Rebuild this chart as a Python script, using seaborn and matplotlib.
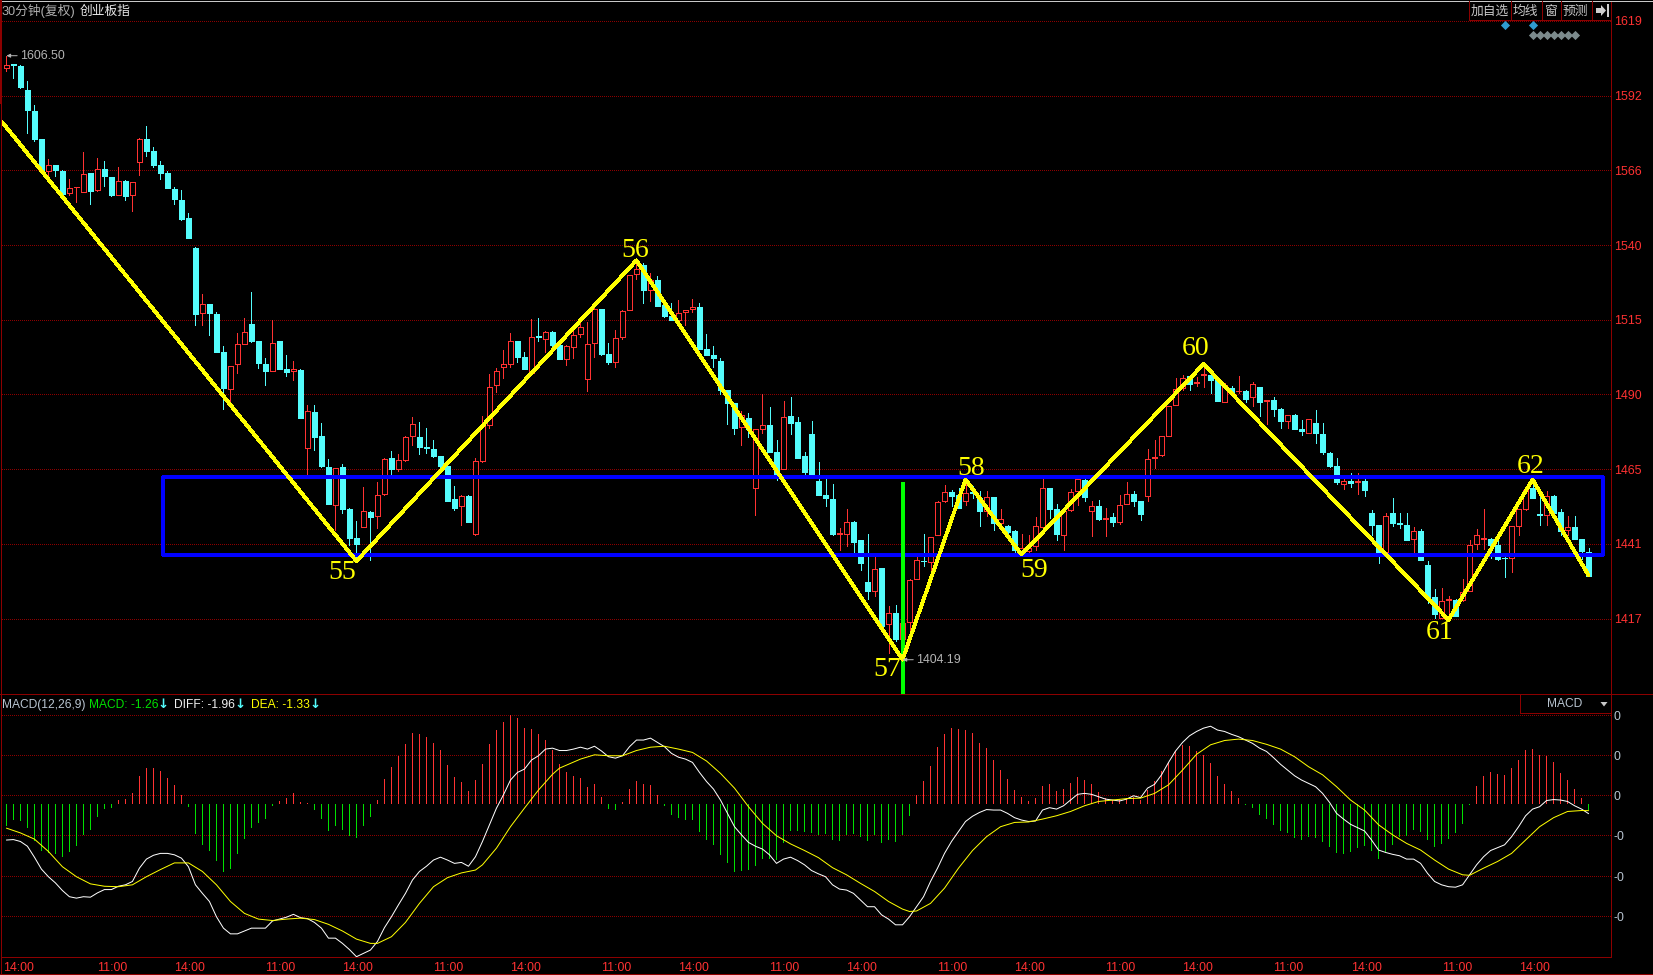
import numpy as np
import pandas as pd
import seaborn as sns
import matplotlib.pyplot as plt
from matplotlib.lines import Line2D
from matplotlib.patches import Polygon
from matplotlib.ticker import NullFormatter, NullLocator

# candles, one per 30 minute bar
open_ = [
    1602.0,1603.6,1602.9,1594.3,1586.8,1577.0,1565.9,1567.8,1565.9,1558.0,
    1560.1,1558.4,1564.9,1559.2,1566.5,1563.7,1557.5,1562.3,1557.3,1569.0,
    1576.9,1572.6,1567.8,1565.1,1559.6,1555.8,1549.3,1539.0,1517.0,1519.9,
    1516.8,1503.7,1491.6,1499.8,1506.5,1513.1,1507.4,1500.0,1497.4,1507.4,
    1498.3,1497.5,1497.9,1471.9,1483.9,1476.0,1465.9,1453.4,1465.9,1452.3,
    1442.9,1446.2,1451.2,1449.8,1456.9,1468.7,1465.2,1468.2,1476.1,1475.7,
    1472.4,1471.8,1469.5,1466.1,1455.5,1453.1,1456.5,1444.2,1467.9,1479.7,
    1492.8,1499.0,1500.0,1507.6,1502.3,1496.7,1509.1,1508.1,1510.7,1506.1,
    1501.6,1505.5,1509.9,1494.9,1506.8,1518.3,1503.3,1500.4,1508.8,1517.9,
    1530.1,1533.4,1524.8,1528.1,1519.6,1515.8,1514.6,1517.4,1518.4,1518.9,
    1505.0,1502.7,1501.0,1491.1,1486.9,1479.0,1481.8,1458.8,1478.2,1479.5,
    1470.7,1465.0,1482.5,1480.6,1469.5,1476.6,1461.3,1456.8,1455.5,1444.0,
    1444.0,1448.1,1442.0,1428.7,1426.0,1433.1,1415.5,1419.0,1410.6,1416.0,
    1429.8,1435.5,1435.2,1443.7,1454.7,1457.7,1456.7,1454.7,1457.5,1455.7,
    1451.6,1456.0,1447.5,1446.7,1444.9,1438.5,1438.5,1440.2,1446.3,1459.0,
    1452.0,1443.8,1451.8,1457.9,1461.7,1451.4,1453.2,1448.9,1449.7,1447.9,
    1453.8,1457.0,1454.8,1456.3,1468.8,1469.6,1475.8,1486.3,1491.7,1495.7,
    1493.6,1496.3,1496.0,1494.4,1487.3,1491.7,1490.8,1491.0,1488.7,1492.1,
    1487.4,1487.8,1484.8,1480.9,1482.9,1478.3,1477.0,1480.3,1476.7,1470.5,
    1466.2,1460.3,1461.3,1461.0,1461.3,1450.9,1447.1,1438.4,1450.7,1447.5,
    1447.1,1442.4,1445.2,1434.0,1423.9,1417.4,1423.1,1423.1,1423.0,1425.7,
    1440.9,1442.6,1442.6,1440.4,1436.5,1436.5,1446.6,1452.0,1459.1,1450.4,
    1450.1,1456.5,1451.3,1445.3,1446.4,1442.6,1438.4,
]
close = [
    1603.2,1603.0,1595.4,1587.3,1577.0,1566.0,1567.7,1566.1,1557.7,1559.8,
    1560.2,1564.6,1558.9,1566.4,1564.0,1557.4,1562.2,1557.1,1561.8,1576.9,
    1572.7,1567.7,1565.2,1559.7,1556.1,1549.2,1542.7,1516.6,1519.9,1517.0,
    1504.0,1492.0,1499.2,1506.5,1510.7,1507.4,1500.1,1497.6,1506.9,1498.3,
    1497.2,1498.2,1482.0,1484.1,1475.7,1466.0,1453.9,1465.4,1452.3,1442.9,
    1441.0,1451.5,1449.5,1456.7,1468.3,1465.2,1468.0,1475.6,1479.9,1472.4,
    1471.9,1469.5,1466.1,1454.9,1452.6,1456.4,1448.1,1467.7,1479.5,1492.3,
    1497.5,1500.0,1507.6,1502.3,1498.2,1509.0,1508.8,1510.6,1506.1,1501.5,
    1505.8,1509.4,1512.3,1506.6,1518.2,1503.3,1500.6,1508.6,1517.7,1530.0,
    1532.0,1524.8,1528.2,1519.2,1515.8,1514.5,1517.0,1518.0,1519.1,1505.0,
    1502.7,1501.7,1491.1,1487.0,1478.7,1483.0,1478.3,1478.3,1479.7,1470.7,
    1462.2,1482.3,1480.2,1468.8,1464.2,1462.2,1456.8,1455.8,1444.2,1444.3,
    1448.0,1441.6,1434.7,1425.9,1433.0,1414.8,1419.0,1410.6,1415.8,1429.2,
    1435.8,1435.3,1443.2,1454.4,1457.7,1456.5,1452.5,1457.4,1457.4,1451.6,
    1456.0,1447.5,1449.0,1444.8,1439.1,1439.6,1439.5,1446.7,1459.0,1452.0,
    1444.2,1451.4,1457.7,1461.9,1456.0,1453.0,1448.9,1449.3,1448.1,1453.4,
    1457.0,1454.9,1450.5,1468.4,1469.1,1475.8,1485.8,1491.6,1495.2,1493.3,
    1493.9,1496.5,1494.4,1487.6,1492.8,1490.6,1491.0,1488.2,1493.3,1487.3,
    1487.7,1484.9,1480.9,1482.8,1478.3,1477.5,1481.5,1477.0,1470.8,1466.2,
    1460.8,1461.3,1460.7,1461.1,1458.4,1447.1,1438.4,1449.8,1447.5,1447.3,
    1442.3,1445.1,1435.7,1424.1,1418.5,1422.8,1423.2,1417.9,1425.4,1440.6,
    1443.8,1442.8,1440.4,1436.2,1436.3,1446.5,1452.0,1458.4,1455.8,1450.1,
    1456.3,1450.9,1445.2,1446.4,1442.6,1438.6,1430.7,
]
high = [
    1606.5,1603.6,1603.0,1597.5,1588.8,1577.0,1569.9,1568.0,1566.1,1563.0,
    1560.2,1572.3,1565.0,1570.3,1569.3,1563.7,1567.0,1562.5,1561.9,1577.3,
    1581.6,1574.1,1569.3,1565.6,1560.3,1559.2,1551.0,1539.5,1523.3,1520.0,
    1517.3,1506.0,1499.3,1510.1,1515.2,1524.0,1507.4,1502.0,1514.5,1507.7,
    1503.0,1501.0,1498.0,1486.2,1486.2,1480.3,1468.5,1465.5,1466.8,1452.5,
    1448.4,1459.4,1451.6,1461.0,1468.7,1470.9,1470.0,1475.8,1482.3,1480.6,
    1478.7,1474.5,1469.5,1466.2,1459.5,1456.7,1456.7,1468.8,1482.7,1496.4,
    1498.5,1504.6,1510.4,1507.6,1504.0,1514.8,1515.2,1510.8,1511.0,1506.2,
    1506.1,1510.8,1513.5,1514.0,1519.6,1518.5,1507.0,1511.4,1517.9,1530.0,
    1534.0,1534.0,1530.7,1529.7,1519.6,1520.3,1521.3,1518.1,1521.6,1520.3,
    1510.0,1505.7,1501.7,1491.2,1487.0,1484.2,1483.5,1478.4,1489.8,1485.6,
    1474.8,1487.6,1489.0,1482.2,1470.6,1481.0,1467.5,1462.0,1460.3,1445.9,
    1452.3,1448.3,1442.0,1444.2,1436.9,1433.1,1421.1,1421.3,1415.8,1429.6,
    1436.8,1444.1,1443.2,1454.7,1460.0,1458.4,1459.0,1461.7,1459.5,1457.9,
    1457.9,1456.0,1452.3,1447.1,1445.5,1444.2,1443.9,1449.6,1461.9,1459.0,
    1453.9,1452.0,1458.6,1463.3,1461.9,1454.8,1455.1,1452.5,1450.7,1456.8,
    1460.9,1458.1,1454.8,1471.7,1474.7,1475.8,1485.8,1495.2,1496.0,1496.0,
    1495.5,1499.4,1497.7,1494.9,1493.5,1492.4,1495.7,1491.3,1493.7,1492.1,
    1487.8,1488.7,1485.1,1482.8,1483.2,1481.3,1481.5,1484.6,1480.3,1470.8,
    1468.6,1463.3,1463.9,1463.9,1462.0,1451.8,1447.1,1450.7,1455.8,1450.7,
    1451.0,1446.2,1445.8,1435.3,1426.5,1426.8,1424.2,1423.2,1429.7,1442.3,
    1445.8,1452.0,1442.9,1443.5,1437.6,1446.8,1452.0,1458.8,1460.6,1456.8,
    1458.1,1456.8,1452.0,1450.0,1450.0,1442.6,1439.7,
]
low = [
    1601.1,1598.6,1594.8,1579.0,1576.4,1565.0,1563.3,1564.0,1557.5,1557.3,
    1554.8,1558.4,1554.4,1558.9,1560.6,1556.9,1557.3,1555.7,1551.8,1564.4,
    1571.0,1567.2,1563.0,1559.7,1554.4,1548.9,1542.7,1512.9,1512.8,1509.4,
    1503.7,1484.9,1486.2,1496.7,1506.4,1507.2,1498.6,1492.8,1497.4,1498.3,
    1495.9,1494.5,1481.9,1462.7,1471.4,1465.9,1453.9,1445.5,1450.7,1440.7,
    1435.9,1446.2,1435.6,1446.1,1456.6,1463.0,1464.6,1467.9,1472.9,1470.1,
    1470.4,1469.0,1464.0,1454.7,1451.8,1447.1,1448.1,1443.6,1467.6,1478.6,
    1490.5,1495.0,1498.9,1500.6,1498.2,1496.5,1507.7,1504.0,1504.6,1501.5,
    1499.5,1501.8,1508.8,1491.0,1502.3,1503.0,1499.9,1498.9,1508.2,1517.9,
    1528.6,1520.2,1521.2,1519.2,1515.5,1514.5,1514.6,1512.8,1517.2,1505.0,
    1502.7,1498.9,1490.0,1479.8,1476.7,1473.1,1475.7,1450.3,1476.8,1470.7,
    1461.4,1465.0,1476.7,1468.8,1462.9,1462.2,1456.8,1453.0,1443.9,1439.0,
    1440.2,1438.0,1432.4,1423.3,1424.3,1413.7,1406.4,1410.1,1404.19,1411.1,
    1429.8,1433.8,1432.2,1443.7,1454.3,1453.0,1452.5,1453.6,1455.7,1446.6,
    1450.0,1445.3,1447.1,1443.4,1438.0,1437.5,1438.0,1438.9,1446.3,1449.1,
    1442.3,1438.9,1451.4,1453.4,1454.6,1443.4,1448.7,1443.4,1446.6,1447.3,
    1453.7,1453.0,1448.7,1454.7,1465.5,1469.3,1475.8,1486.3,1491.3,1491.1,
    1492.5,1492.2,1490.2,1487.6,1487.1,1490.6,1490.2,1487.3,1485.9,1482.7,
    1480.0,1482.6,1478.7,1478.7,1478.3,1476.4,1477.0,1473.7,1470.1,1465.7,
    1460.1,1458.7,1459.3,1457.0,1456.5,1443.6,1434.7,1437.7,1446.8,1445.9,
    1442.1,1438.3,1435.7,1422.2,1417.2,1417.2,1417.2,1417.9,1422.7,1425.7,
    1439.4,1439.4,1436.3,1435.8,1430.2,1432.0,1443.6,1451.7,1455.8,1447.1,
    1447.1,1450.4,1443.9,1443.6,1442.6,1435.9,1430.5,
]

# hand drawn wave count and box
zig_bar = [-0.6, 50, 90, 128, 137, 145, 171, 206, 218, 226]
zig_price = [1582.9, 1435.4, 1534.9, 1404.19, 1461.7, 1437.5, 1499.8, 1416.7, 1461.7, 1430.8]
wave_bar = [50, 90, 128, 137, 145, 171, 206, 218]
wave_price = [1435.4, 1534.9, 1404.19, 1461.7, 1437.5, 1499.8, 1416.7, 1461.7]
wave_labels = ["55", "56", "57", "58", "59", "60", "61", "62"]
wave_dx = [-14.5, -1.3, -15.6, 5.7, 12.7, -8.3, -8.6, -1.6]
wave_dy = [-11, 10, -9.5, 11.5, -16, 16, -12.5, 13.5]
box_bar = [22.3, 228, 228, 22.3, 22.3]
box_price = [1462.5, 1462.5, 1437.4, 1437.4, 1462.5]

signal_bar = [214, 218]
signal_price = [1617.4, 1617.4]
flag_bar = [218, 219, 220, 221, 222, 223, 224]
flag_price = [1613.8] * 7

price_ticks = [1619, 1592.3, 1566, 1540.1, 1514.7, 1489.7, 1465.1, 1440.9, 1417.1]
price_labels = ["1619", "1592", "1566", "1540", "1515", "1490", "1465", "1441", "1417"]

macd = [
    -4.5,-3.3,-3.6,-5.0,-7.8,-9.7,-10.3,-10.4,-11.0,-10.1,
    -8.7,-6.4,-5.4,-2.7,-1.0,-0.7,0.9,1.2,2.4,6.0,
    7.6,7.6,7.1,5.6,4.1,2.0,-0.5,-6.2,-8.5,-9.8,
    -11.8,-14.3,-13.6,-10.4,-7.3,-4.9,-3.9,-3.1,-0.3,0.6,
    1.3,2.4,0.5,0.2,-1.2,-3.1,-5.6,-4.5,-5.4,-6.6,
    -7.1,-4.5,-2.7,0.9,5.3,7.8,10.1,12.7,15.0,14.8,
    14.1,12.9,11.4,8.3,5.7,4.7,2.8,5.1,8.5,12.7,
    15.6,17.3,18.8,18.1,16.0,15.8,14.8,13.5,11.4,8.5,
    6.8,5.9,5.5,3.6,4.3,1.5,-1.0,-1.2,0.5,3.2,
    4.9,4.3,4.1,2.0,-0.3,-2.2,-2.9,-3.3,-3.3,-5.8,
    -7.5,-8.5,-10.6,-12.3,-14.2,-14.0,-13.8,-12.9,-11.5,-11.5,
    -11.7,-8.1,-5.6,-5.6,-5.8,-6.0,-6.4,-6.2,-7.5,-7.7,
    -6.4,-6.2,-6.9,-7.7,-6.4,-8.1,-7.5,-7.9,-6.4,-2.4,
    2.0,4.9,8.1,12.0,14.8,16.0,15.8,15.6,15.0,12.9,
    11.8,9.3,7.2,5.3,3.0,1.5,0.7,1.3,3.9,4.3,
    2.8,3.2,4.5,5.7,5.1,4.3,2.6,1.3,0.9,1.1,
    1.3,1.5,0.9,3.0,4.8,6.9,8.6,11.1,12.4,12.3,
    11.2,10.4,8.7,5.9,4.3,2.8,1.3,-0.2,-0.8,-2.2,
    -3.1,-4.3,-5.6,-6.0,-7.1,-7.5,-6.9,-7.1,-7.9,-9.0,
    -10.2,-10.4,-10.0,-9.2,-8.7,-9.8,-11.5,-10.0,-8.5,-6.9,
    -6.6,-5.4,-5.8,-7.5,-9.0,-8.3,-7.3,-6.0,-4.1,-0.2,
    3.9,5.9,6.8,6.4,6.2,7.6,9.3,11.4,11.6,10.4,
    10.1,8.9,6.6,5.1,3.2,1.3,-1.26,
]
diff = [
    -7.5,-7.4,-7.8,-8.8,-11.1,-13.6,-15.2,-16.5,-18.1,-19.4,
    -19.7,-19.4,-19.5,-18.6,-17.9,-17.9,-17.2,-16.9,-16.2,-13.4,
    -11.5,-10.7,-10.3,-10.3,-10.6,-11.3,-13.1,-16.9,-18.7,-20.4,
    -23.6,-26.0,-27.2,-27.2,-26.6,-26.0,-26.0,-26.0,-24.5,-24.1,
    -23.7,-23.1,-23.8,-24.0,-24.8,-26.0,-28.1,-28.1,-29.2,-30.5,
    -32.0,-31.3,-30.6,-28.8,-25.9,-23.6,-21.1,-18.7,-15.9,-14.1,
    -13.0,-11.7,-11.1,-11.7,-12.4,-12.2,-13.0,-11.0,-7.8,-4.3,
    -0.8,2.0,5.1,6.7,7.4,9.3,10.2,11.6,11.8,11.3,
    11.3,11.6,12.0,11.6,12.2,11.2,10.0,9.7,10.2,12.1,
    13.5,13.5,13.9,13.0,12.1,10.7,9.9,9.5,8.8,6.7,
    4.8,3.2,0.9,-1.9,-4.7,-6.4,-8.0,-8.8,-9.4,-10.6,
    -12.4,-11.5,-11.1,-11.8,-12.7,-13.9,-14.6,-15.2,-16.9,-17.8,
    -18.0,-18.7,-20.1,-21.5,-21.5,-23.2,-24.1,-25.3,-25.3,-23.6,
    -21.5,-19.4,-16.2,-13.4,-10.3,-7.8,-5.7,-3.6,-2.5,-1.7,
    -1.1,-1.2,-1.2,-1.9,-2.8,-3.3,-3.6,-3.5,-1.2,-0.7,
    -1.0,-0.3,0.9,2.1,2.3,2.1,1.6,1.1,0.9,0.7,
    1.1,1.8,1.4,3.4,4.2,6.2,8.8,11.2,13.0,14.4,
    15.3,16.0,16.4,15.6,15.3,14.7,14.2,13.5,12.8,11.8,
    11.1,9.8,8.4,7.2,6.0,5.1,4.4,3.7,2.3,0.4,
    -1.9,-3.1,-4.2,-4.9,-5.6,-7.5,-9.6,-10.1,-10.5,-10.8,
    -11.5,-11.5,-12.4,-14.5,-16.2,-16.9,-17.3,-17.4,-16.9,-14.8,
    -12.7,-11.0,-9.7,-9.1,-8.5,-6.8,-4.7,-2.4,-1.0,-0.5,
    0.8,1.0,0.9,0.6,-0.3,-1.0,-1.96,
]
dea_bar = [
    0,2,4,6,8,10,12,14,16,18,20,22,24,26,28,30,32,34,36,38,40,42,44,46,48,50,52,53,55,57,
    59,61,63,65,67,68,70,72,74,76,78,79,82,84,86,88,90,92,94,96,98,100,102,104,106,108,110,
    112,114,116,118,120,122,124,126,128,129,130,132,134,136,138,140,142,144,146,148,150,152,
    154,156,158,160,162,164,166,168,170,172,174,176,178,180,182,184,186,188,190,192,194,196,
    198,200,202,204,206,208,209,211,213,215,217,219,221,223,225,226,
]
dea = [
    -5.0,-6.0,-7.3,-9.9,-13.1,-15.2,-16.7,-17.2,-17.3,-16.9,-15.2,-13.7,-12.3,-12.3,-14.1,
    -16.9,-20.4,-22.9,-24.1,-24.4,-24.1,-23.9,-24.2,-25.2,-26.6,-28.3,-29.2,-29.2,-27.8,-24.8,
    -20.8,-17.3,-15.4,-14.4,-13.8,-12.7,-9.2,-4.7,-0.8,3.0,6.3,7.6,9.5,10.4,10.2,10.2,11.3,
    12.0,12.2,11.6,10.9,9.1,6.5,3.4,-0.5,-4.0,-6.6,-8.3,-9.7,-11.2,-13.3,-14.8,-16.6,-18.3,
    -20.4,-22.0,-22.5,-22.4,-20.8,-17.6,-13.4,-9.7,-6.8,-4.7,-3.8,-3.7,-3.1,-2.4,-1.5,-0.3,
    0.6,0.9,1.2,1.3,2.3,4.1,7.2,10.5,12.5,13.4,13.7,13.4,12.6,11.6,10.0,7.9,6.2,3.7,0.9,-1.2,
    -4.3,-6.4,-8.2,-9.6,-11.7,-13.6,-14.8,-14.9,-13.4,-12.0,-10.3,-7.5,-4.7,-2.8,-1.5,-1.3,-1.33,
]
macd_ticks = [18.69, 10.29, 1.89, -6.51, -15.12, -23.52]
macd_tick_labels = ["0", "0", "0", "-0", "-0", "-0"]

time_ticks = [-0.5, 13, 24, 37, 48, 61, 72, 85, 96, 109, 120, 133, 144, 157, 168, 181, 192, 205, 216]
time_labels = ["14:00", "11:00"] * 9 + ["14:00"]

W, H = 1653, 975
RED, CYAN = "#FF3232", "#54FCFC"
FRAME = "#8C0000"
GREY = "#B4B4B4"


def fx(x):
    return x / W


def fy(y):
    return 1 - y / H


def hline(fig, x0, x1, y, color=FRAME, lw=0.72):
    fig.add_artist(Line2D([fx(x0), fx(x1)], [fy(y), fy(y)], color=color, lw=lw, antialiased=False))


def vline(fig, x, y0, y1, color=FRAME, lw=0.72):
    fig.add_artist(Line2D([fx(x), fx(x)], [fy(y0), fy(y1)], color=color, lw=lw, antialiased=False))


def label(fig, x, y, text, color=GREY, **kw):
    kw.setdefault("fontsize", 8.64)
    kw.setdefault("va", "center")
    fig.text(fx(x), fy(y), text, color=color, **kw)


def draw_candles(ax, bars):
    up = bars["close"] >= bars["open"]
    for mask, color, face in [(up, RED, "black"), (~up, CYAN, CYAN)]:
        part = bars[mask]
        ax.vlines(part["bar"], part["low"], part["high"], color=color, lw=0.72, antialiased=False, zorder=2)
        ax.bar(
            part["bar"],
            (part["close"] - part["open"]).abs(),
            bottom=part[["open", "close"]].min(axis=1),
            width=0.6,
            facecolor=face,
            edgecolor=color,
            linewidth=0.72,
            antialiased=False,
            zorder=3,
        )


sns.set_theme(
    style="dark",
    rc={
        "figure.facecolor": "black",
        "axes.facecolor": "black",
        "savefig.facecolor": "black",
        "axes.edgecolor": FRAME,
        "text.color": GREY,
    },
)
plt.rcParams["font.family"] = ["Liberation Sans", "Noto Sans CJK SC", "DejaVu Sans"]

fig = plt.figure(figsize=(W / 100, H / 100), dpi=100)
ax = fig.add_axes([fx(2), fy(694), (1611 - 2) / W, (694 - 1) / H])
ax2 = fig.add_axes([fx(2), fy(957), (1611 - 2) / W, (957 - 694) / H])

bars = pd.DataFrame({"bar": np.arange(len(open_)), "open": open_, "high": high, "low": low, "close": close})

# price panel
ax.set_yscale("log")
draw_candles(ax, bars)
ax.vlines(128, 1393.5, 1461, color="#00FF00", lw=1.7, antialiased=False, zorder=5)
sns.lineplot(x=box_bar, y=box_price, sort=False, estimator=None, color="#0000FF", lw=1.7, antialiased=False, ax=ax, zorder=4)
sns.lineplot(x=zig_bar, y=zig_price, sort=False, estimator=None, color="#FFFF00", lw=2.0, antialiased=False, ax=ax, zorder=6)
sns.scatterplot(x=signal_bar, y=signal_price, marker="D", s=22, color="#2E9BD0", linewidth=0, ax=ax, zorder=4)
sns.scatterplot(x=flag_bar, y=flag_price, marker="D", s=22, color="#7C8A8C", linewidth=0, ax=ax, zorder=4)

ax.set_xlim(-0.63, 229.2)
ax.set_ylim(1393.5, 1626.2)
ax.yaxis.set_minor_locator(NullLocator())
ax.yaxis.set_minor_formatter(NullFormatter())
ax.set_yticks(price_ticks, labels=price_labels)
ax.yaxis.tick_right()
ax.tick_params(axis="y", length=0, pad=2, labelsize=8.9, labelcolor=RED)
ax.set_xticks([])
ax.set_xlabel("")
ax.set_ylabel("")
ax.grid(axis="y", color=FRAME, ls=(0, (1, 2)), lw=0.72, antialiased=False)
ax.set_axisbelow(True)
for name, spine in ax.spines.items():
    spine.set_visible(name == "right")
    spine.set_linewidth(0.72)

for x, y, txt, dx, dy in zip(wave_bar, wave_price, wave_labels, wave_dx, wave_dy):
    ax.annotate(txt, xy=(x, y), xytext=(dx, dy), textcoords="offset pixels", ha="center", va="center",
                color="#FFFF00", fontsize=20, family="Liberation Serif", zorder=7)

for x, y, txt, off in [(0, 1606.5, "1606.50", 14), (128, 1404.19, "1404.19", 14)]:
    ax.annotate(txt, xy=(x, y), xytext=(off, 0), textcoords="offset pixels", ha="left", va="center",
                color=GREY, fontsize=8.9, zorder=7,
                arrowprops=dict(arrowstyle="-|>,head_length=0.25,head_width=0.12", color=GREY, lw=0.72, shrinkA=0, shrinkB=0))

# MACD panel
hist = pd.DataFrame({"bar": np.arange(len(macd)), "macd": macd})
hist["sign"] = np.where(hist["macd"] >= 0, "up", "down")
sns.barplot(data=hist, x="bar", y="macd", hue="sign", palette={"up": RED, "down": "#00E000"}, native_scale=True,
            dodge=False, width=0.14, saturation=1, errorbar=None, legend=False, linewidth=0, ax=ax2)
for p in ax2.patches:
    p.set_antialiased(False)
sns.lineplot(x=bars["bar"], y=diff, color="white", lw=0.72, ax=ax2, zorder=4)
sns.lineplot(x=dea_bar, y=dea, color="#FFFF00", lw=0.72, ax=ax2, zorder=5)

ax2.set_xlim(-0.63, 229.2)
ax2.set_ylim(-32.06, 23.17)
ax2.set_yticks(macd_ticks, labels=macd_tick_labels)
ax2.yaxis.tick_right()
ax2.tick_params(axis="y", length=0, pad=2, labelsize=8.9, labelcolor="#B8C4D0")
ax2.set_xticks(time_ticks, labels=time_labels, ha="left")
ax2.tick_params(axis="x", length=3, width=0.72, color=RED, pad=0.5, labelsize=8.9, labelcolor=RED)
ax2.set_xlabel("")
ax2.set_ylabel("")
ax2.grid(axis="y", color=FRAME, ls=(0, (1, 2)), lw=0.72, antialiased=False)
ax2.set_axisbelow(True)
for name, spine in ax2.spines.items():
    spine.set_visible(name in ("right", "bottom"))
    spine.set_linewidth(0.72)

# window chrome
hline(fig, 0, W, 0.5, color="#C8C8C8")
hline(fig, 0, W, 694.3)
hline(fig, 0, W, 974)
vline(fig, 1, 0, 103, lw=1.4)
vline(fig, 1, 103, 974)
label(fig, 2, 11.5, "30分钟(复权)", color="#B0B0B0", fontsize=9.2)
label(fig, 80, 11.5, "创业板指", color="#E8E8E8", fontsize=9.2)

for x in [1469.3, 1511.3, 1542.3, 1561.3, 1592.3]:
    vline(fig, x, 1, 20.3)
hline(fig, 1469.3, 1611, 20.3)
for x, txt in [(1490, "加自选"), (1525.7, "均线"), (1551.7, "窗"), (1575.7, "预测")]:
    label(fig, x, 11.5, txt, color="#C8C8C8", ha="center", fontsize=9.2)
fig.add_artist(Polygon(
    [(fx(1596), fy(8)), (fx(1601), fy(8)), (fx(1601), fy(5)), (fx(1606), fy(10.5)),
     (fx(1601), fy(16)), (fx(1601), fy(13)), (fx(1596), fy(13))],
    closed=True, facecolor="#D0D0D0", edgecolor="none", transform=fig.transFigure))
vline(fig, 1607.5, 5, 16, color="#D0D0D0", lw=1.2)

label(fig, 2, 704.7, "MACD(12,26,9)", color="#B8C4D0")
label(fig, 89, 704.7, "MACD: -1.26", color="#00E000")
label(fig, 174, 704.7, "DIFF: -1.96", color="#F0F0F0")
label(fig, 251.4, 704.7, "DEA: -1.33", color="#FFFF00")
for x in [163, 240, 314.6]:
    label(fig, x, 704.7, "↓", color=CYAN, ha="center", family="DejaVu Sans", fontweight="bold", fontsize=9.5)

vline(fig, 1519.7, 694.3, 713.3)
hline(fig, 1519.7, 1611, 713.3)
label(fig, 1565, 704.3, "MACD", color="#B8C4D0", ha="center")
fig.add_artist(Polygon([(fx(1600.5), fy(702)), (fx(1607.5), fy(702)), (fx(1604), fy(706.5))], closed=True,
                       facecolor="#C8C8C8", edgecolor="none", transform=fig.transFigure))

fig.savefig("out.png", dpi=100)
